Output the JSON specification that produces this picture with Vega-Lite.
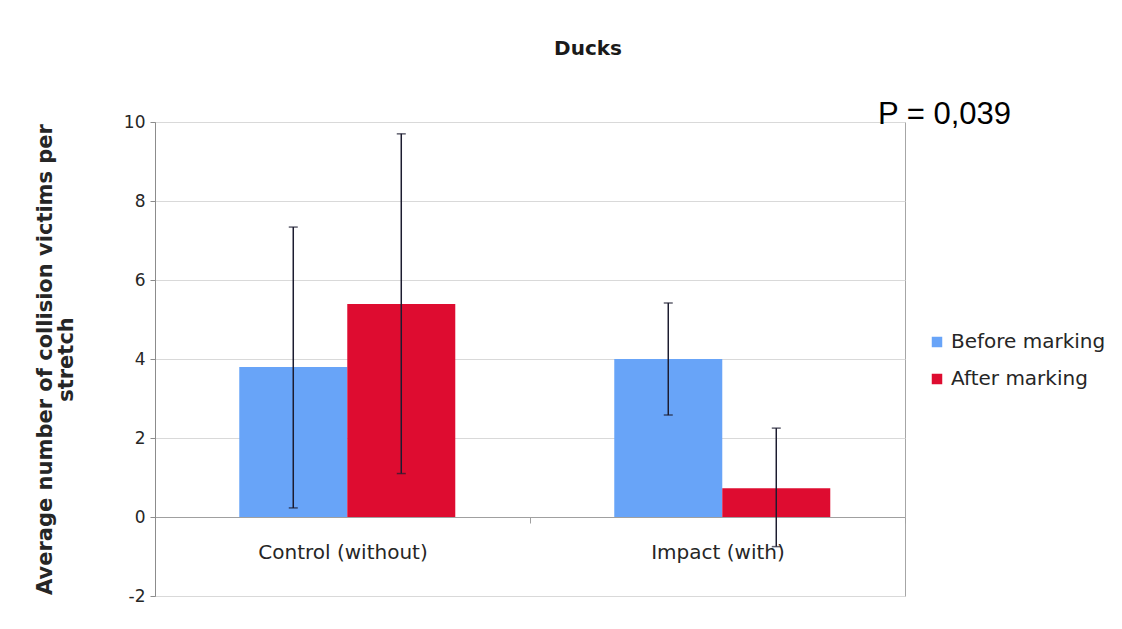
{
  "$schema": "https://vega.github.io/schema/vega-lite/v6.json",
  "width": 750,
  "height": 474,
  "autosize": {"type": "none"},
  "padding": {"left": 155, "top": 122, "right": 217, "bottom": 33},
  "background": "white",
  "title": {"text": "Ducks", "font": "DejaVu Sans", "fontSize": 20, "fontWeight": "bold", "color": "#1a1a1a", "anchor": "middle", "dx": 58, "offset": 40},
  "config": {"view": {"stroke": "#a6a6a6", "strokeWidth": 1}},
  "data": {"values": [
    {"group": "Control (without)", "period": "Before marking", "mean": 3.8, "low": 0.23, "high": 7.34},
    {"group": "Control (without)", "period": "After marking", "mean": 5.39, "low": 1.1, "high": 9.7},
    {"group": "Impact (with)", "period": "Before marking", "mean": 4.0, "low": 2.58, "high": 5.42},
    {"group": "Impact (with)", "period": "After marking", "mean": 0.73, "low": -0.75, "high": 2.25}
  ]},
  "layer": [
    {
      "mark": {"type": "bar"},
      "encoding": {
        "x": {"field": "group", "type": "nominal", "sort": null,
          "scale": {"paddingInner": 0, "paddingOuter": 0},
          "axis": {"title": null, "offset": -79, "labelAngle": 0, "labelFont": "DejaVu Sans", "labelFontSize": 20, "labelColor": "#262626", "labelPadding": 19, "domainColor": "#a0a0a0", "tickColor": "#a0a0a0", "tickSize": 6, "tickBand": "extent", "grid": false}},
        "xOffset": {"field": "period", "type": "nominal", "sort": ["Before marking", "After marking"], "scale": {"paddingInner": 0, "paddingOuter": 0.736, "align": 0.53}},
        "y": {"field": "mean", "type": "quantitative", "scale": {"domain": [-2, 10], "nice": false},
          "axis": {"title": ["Average number of collision victims per", "stretch"], "values": [-2, 0, 2, 4, 6, 8, 10], "labelExpr": "'' + datum.value", "grid": true, "gridColor": "#d9d9d9", "domainColor": "#8c8c8c", "tickColor": "#8c8c8c", "tickSize": 5, "labelFont": "DejaVu Sans", "labelFontSize": 17, "labelColor": "#262626", "labelPadding": 5, "titleFont": "DejaVu Sans", "titleFontSize": 21, "titleFontWeight": "bold", "titleColor": "#262626", "titleLineHeight": 21, "titlePadding": 47}},
        "color": {"field": "period", "type": "nominal",
          "scale": {"domain": ["Before marking", "After marking"], "range": ["#68a4f8", "#de0c30"]},
          "legend": {"title": null, "orient": "none", "legendX": 772, "legendY": 210, "symbolType": "square", "symbolSize": 110, "symbolStrokeWidth": 0, "labelFont": "DejaVu Sans", "labelFontSize": 20, "labelColor": "#262626", "labelOffset": 4, "rowPadding": 17, "padding": 0}}
      }
    },
    {
      "mark": {"type": "rule", "color": "#1c1c30", "strokeWidth": 1.5},
      "encoding": {
        "x": {"field": "group", "type": "nominal", "sort": null},
        "xOffset": {"field": "period", "type": "nominal", "sort": ["Before marking", "After marking"]},
        "y": {"field": "low", "type": "quantitative"},
        "y2": {"field": "high"}
      }
    },
    {
      "mark": {"type": "tick", "color": "#1c1c30", "size": 9, "thickness": 1.5},
      "encoding": {
        "x": {"field": "group", "type": "nominal", "sort": null},
        "xOffset": {"field": "period", "type": "nominal", "sort": ["Before marking", "After marking"]},
        "y": {"field": "high", "type": "quantitative"}
      }
    },
    {
      "mark": {"type": "tick", "color": "#1c1c30", "size": 9, "thickness": 1.5},
      "encoding": {
        "x": {"field": "group", "type": "nominal", "sort": null},
        "xOffset": {"field": "period", "type": "nominal", "sort": ["Before marking", "After marking"]},
        "y": {"field": "low", "type": "quantitative"}
      }
    },
    {
      "data": {"values": [{"label": "P = 0,039"}]},
      "mark": {"type": "text", "font": "Liberation Sans", "fontSize": 31, "color": "#000000", "align": "left", "baseline": "alphabetic", "dx": -27, "dy": 2},
      "encoding": {
        "x": {"value": "width"},
        "y": {"datum": 10, "type": "quantitative"},
        "text": {"field": "label"}
      }
    }
  ]
}
